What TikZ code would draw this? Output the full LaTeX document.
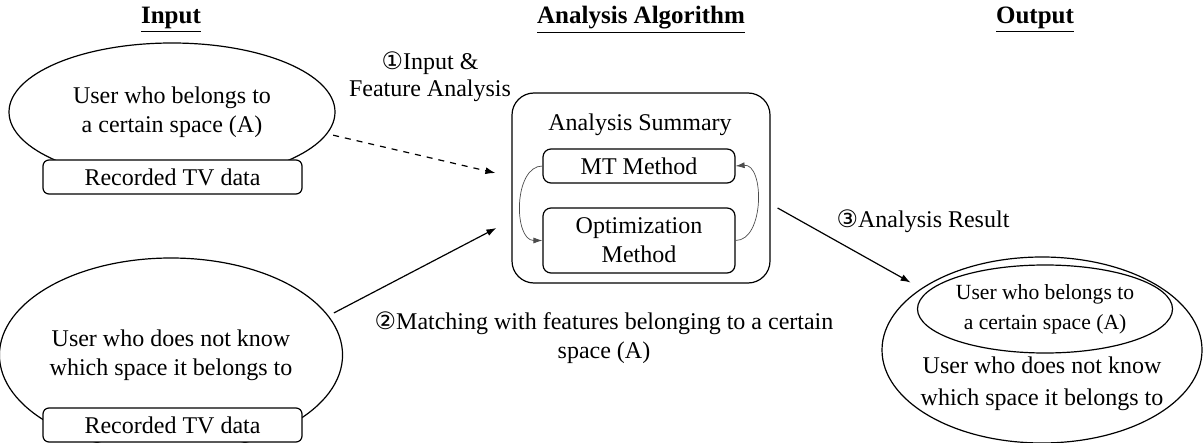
\documentclass[tikz,border=0pt]{standalone}
\usepackage{fontspec}
\setmainfont{LiberationSerif}[Extension=.ttf, UprightFont=*-Regular, BoldFont=*-Bold, ItalicFont=*-Italic, BoldItalicFont=*-BoldItalic]
\newfontfamily\circfont{DejaVu Sans}
\usetikzlibrary{shapes,arrows.meta,positioning}

\begin{document}
\begin{tikzpicture}[
    x=0.5pt, y=-0.5pt, line width=0.6pt,
    font=\fontsize{12pt}{14.5pt}\selectfont,
    user/.style={ellipse, draw, inner sep=0pt, align=center},
    data/.style={rectangle, draw, rounded corners=3pt, fill=white, minimum width=129.5pt, minimum height=17pt, inner sep=0pt},
    method/.style={rectangle, draw, rounded corners=4pt, minimum width=96pt, inner sep=0pt, align=center},
    head/.style={font=\fontsize{12.5pt}{14pt}\selectfont\bfseries},
    arrow/.style={-{Latex[length=5pt, width=3.5pt]}, line width=0.6pt},
    loop/.style={-{Latex[length=4.5pt, width=3pt]}, line width=0.35pt, gray!60!black}
]
\useasboundingbox (0,0) rectangle (1203,443);

% Headers
\node[head] (hin) at (171,20) {\underline{Input}};
\node[head] (halg) at (641,20) {\underline{Analysis Algorithm}};
\node[head] (hout) at (1035,20) {\underline{Output}};

% Input side
\node[user, minimum width=163pt, minimum height=69pt] (userA) at (172,112) {User who belongs to\\a certain space (A)};
\node[data] (tvA) at (172.5,177) {Recorded TV data};
\node[user, minimum width=163pt, minimum height=97pt] (userB) at (171,355) {User who does not know\\which space it belongs to};
\node[data] (tvB) at (172.5,425) {Recorded TV data};

% Analysis block
\node[draw, rounded corners=11pt, minimum width=129pt, minimum height=95pt] (summary) at (641,188) {};
\node (sumttl) at (640,125) {Analysis Summary};
\node[method, minimum height=17pt] (mt) at (639,166) {MT Method};
\node[method, minimum height=32.5pt] (opt) at (639,240.5) {Optimization\\Method};
\draw[loop] (mt.west) to[out=180, in=180] (opt.west);
\draw[loop] (opt.east) to[out=0, in=5] (mt.east);

% Output side
\node[user, minimum width=160pt, minimum height=93pt] (outer) at (1042,350) {};
\node[user, minimum width=127.5pt, minimum height=44pt, font=\fontsize{10.8pt}{15pt}\selectfont] (inner) at (1045,309) {User who belongs to\\a certain space (A)};
\node[align=center, font=\fontsize{12pt}{16pt}\selectfont] (outtxt) at (1042,384) {User who does not know\\which space it belongs to};

% Flow arrows
\draw[arrow, dashed, shorten <=3pt] (userA.-8) -- ([xshift=-8pt, yshift=7.5pt]summary.west);
\draw[arrow, shorten <=3pt] (userB.14) -- ([xshift=-7.5pt, yshift=-20pt]summary.west);
\draw[arrow, shorten >=6pt] ([xshift=3.5pt, yshift=-10pt]summary.east) -- (outer.153);

\node[align=center, font=\fontsize{12pt}{13.5pt}\selectfont] (lbl1) at (430,77) {{\circfont ①}Input \&\\Feature Analysis};
\node[align=center] (lbl2) at (604,338) {{\circfont ②}Matching with features belonging to a certain\\space (A)};
\node (lbl3) at (923,221) {{\circfont ③}Analysis Result};

\end{tikzpicture}
\end{document}
